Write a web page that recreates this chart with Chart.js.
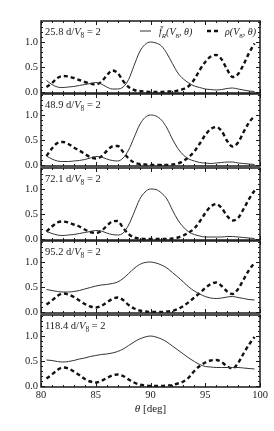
<!DOCTYPE html>
<html>
<head>
<meta charset="utf-8">
<script src="https://cdn.jsdelivr.net/npm/chart.js@4/dist/chart.umd.min.js"></script>
<style>
  html, body { margin: 0; padding: 0; background: #fff; }
  #wrap { position: relative; width: 274px; height: 431px; overflow: hidden; }
  #wrap canvas { position: absolute; left: 0; }
</style>
</head>
<body>
<div id="wrap"></div>
<script>
// angle grid (deg)
const theta = [80.5, 81, 81.5, 82, 82.5, 83, 83.5, 84, 84.5, 85, 85.5, 86, 86.5, 87, 87.5, 88, 88.5, 89, 89.5, 90,
  90.5, 91, 91.5, 92, 92.5, 93, 93.5, 94, 94.5, 95, 95.5, 96, 96.5, 97, 97.5, 98, 98.5, 99, 99.5]

const panelTimes = ["25.8", "48.9", "72.1", "95.2", "118.4"]

// solid: f_R(V8, theta)
const fR1 = [0.23, 0.15, 0.10, 0.09, 0.10, 0.11, 0.13, 0.15, 0.17, 0.19, 0.16, 0.10, 0.06, 0.06, 0.10, 0.25, 0.53, 0.80, 0.95, 1.00,
  0.98, 0.92, 0.77, 0.57, 0.38, 0.26, 0.18, 0.12, 0.09, 0.06, 0.05, 0.04, 0.05, 0.07, 0.08, 0.06, 0.04, 0.02, 0.01]
const fR2 = [0.18, 0.12, 0.08, 0.07, 0.07, 0.08, 0.09, 0.11, 0.14, 0.17, 0.16, 0.12, 0.09, 0.08, 0.14, 0.30, 0.55, 0.80, 0.95, 1.00,
  0.98, 0.90, 0.74, 0.52, 0.33, 0.20, 0.12, 0.08, 0.05, 0.04, 0.03, 0.04, 0.05, 0.06, 0.06, 0.04, 0.03, 0.02, 0.01]
const fR3 = [0.15, 0.11, 0.08, 0.07, 0.08, 0.09, 0.11, 0.13, 0.15, 0.17, 0.16, 0.12, 0.09, 0.08, 0.12, 0.28, 0.53, 0.79, 0.94, 1.00,
  0.99, 0.92, 0.80, 0.58, 0.38, 0.24, 0.14, 0.09, 0.06, 0.04, 0.04, 0.04, 0.04, 0.05, 0.05, 0.04, 0.03, 0.02, 0.01]
const fR4 = [0.45, 0.43, 0.41, 0.40, 0.40, 0.41, 0.43, 0.46, 0.49, 0.52, 0.54, 0.55, 0.57, 0.60, 0.67, 0.77, 0.87, 0.95, 0.99, 1.00,
  0.98, 0.94, 0.88, 0.79, 0.70, 0.60, 0.50, 0.42, 0.36, 0.31, 0.28, 0.27, 0.28, 0.30, 0.31, 0.29, 0.27, 0.25, 0.24]
const fR5 = [0.52, 0.51, 0.49, 0.48, 0.49, 0.51, 0.54, 0.56, 0.59, 0.61, 0.63, 0.64, 0.66, 0.69, 0.74, 0.81, 0.88, 0.94, 0.98, 1.00,
  0.98, 0.94, 0.88, 0.80, 0.72, 0.64, 0.56, 0.49, 0.43, 0.39, 0.38, 0.37, 0.37, 0.37, 0.37, 0.37, 0.36, 0.35, 0.34]

// dashed: rho(V8, theta)
const rho1 = [0.10, 0.18, 0.28, 0.32, 0.31, 0.28, 0.24, 0.20, 0.17, 0.15, 0.20, 0.33, 0.43, 0.38, 0.22, 0.10, 0.04, 0.02, 0.01, 0.00,
  0.00, 0.00, 0.01, 0.01, 0.03, 0.06, 0.12, 0.25, 0.44, 0.60, 0.71, 0.74, 0.65, 0.45, 0.30, 0.36, 0.55, 0.78, 0.97]
const rho2 = [0.18, 0.33, 0.44, 0.46, 0.42, 0.35, 0.29, 0.22, 0.16, 0.13, 0.17, 0.28, 0.37, 0.38, 0.26, 0.13, 0.05, 0.02, 0.01, 0.00,
  0.00, 0.00, 0.00, 0.01, 0.03, 0.08, 0.16, 0.27, 0.43, 0.60, 0.72, 0.76, 0.68, 0.48, 0.37, 0.45, 0.66, 0.85, 0.98]
const rho3 = [0.15, 0.25, 0.33, 0.35, 0.33, 0.29, 0.25, 0.19, 0.14, 0.12, 0.16, 0.26, 0.35, 0.36, 0.22, 0.10, 0.03, 0.01, 0.00, 0.00,
  0.00, 0.00, 0.00, 0.01, 0.03, 0.07, 0.13, 0.21, 0.35, 0.52, 0.65, 0.70, 0.62, 0.46, 0.37, 0.42, 0.60, 0.80, 0.97]
const rho4 = [0.15, 0.23, 0.32, 0.37, 0.35, 0.30, 0.23, 0.16, 0.11, 0.09, 0.12, 0.19, 0.26, 0.29, 0.24, 0.14, 0.07, 0.03, 0.01, 0.00,
  0.00, 0.00, 0.01, 0.02, 0.06, 0.12, 0.20, 0.29, 0.38, 0.48, 0.56, 0.59, 0.52, 0.41, 0.36, 0.46, 0.65, 0.84, 0.98]
const rho5 = [0.15, 0.23, 0.32, 0.37, 0.35, 0.29, 0.22, 0.14, 0.09, 0.07, 0.10, 0.16, 0.21, 0.23, 0.20, 0.13, 0.07, 0.03, 0.01, 0.00,
  0.00, 0.00, 0.01, 0.02, 0.05, 0.09, 0.17, 0.30, 0.40, 0.47, 0.51, 0.52, 0.48, 0.39, 0.35, 0.46, 0.65, 0.83, 0.98]

const fRSeries = [fR1, fR2, fR3, fR4, fR5]
const rhoSeries = [rho1, rho2, rho3, rho4, rho5]

const xTicks = [80, 85, 90, 95, 100]
const yTicks = [0, 0.5, 1.0]

const SERIF = "'Liberation Serif', 'DejaVu Serif', serif"
const INK = "#1a1a1a"

// plot-area tops for the five stacked panels
const panelTop = [21, 94, 168, 241, 315]
const panelH = 72
const pad = 10

// draw a run of text pieces: {t, it (italic), sub (subscript)}
function drawRich(ctx, x, y, parts, size) {
  parts.forEach(p => {
    const s = p.sub ? size * 0.7 : size
    ctx.font = (p.it ? "italic " : "") + s + "px " + SERIF
    ctx.fillText(p.t, x, p.sub ? y + size * 0.25 : y)
    x += ctx.measureText(p.t).width
  })
  return x
}

function richWidth(ctx, parts, size) {
  let w = 0
  parts.forEach(p => {
    const s = p.sub ? size * 0.7 : size
    ctx.font = (p.it ? "italic " : "") + s + "px " + SERIF
    w += ctx.measureText(p.t).width
  })
  return w
}

const framePlugin = {
  id: "frame",
  afterDatasetsDraw(chart) {
    const { ctx, chartArea: a, scales } = chart
    const x = scales.x, y = scales.y
    ctx.save()
    ctx.strokeStyle = INK
    ctx.lineWidth = 1
    for (let v = 80; v <= 100; v++) {
      const px = Math.round(x.getPixelForValue(v)) + 0.5
      const len = v % 5 === 0 ? 4 : 2
      ctx.beginPath()
      ctx.moveTo(px, a.bottom); ctx.lineTo(px, a.bottom - len)
      ctx.moveTo(px, a.top); ctx.lineTo(px, a.top + len)
      ctx.stroke()
    }
    for (let i = 0; i <= 14; i++) {
      const v = i / 10
      const py = Math.round(y.getPixelForValue(v)) + 0.5
      const len = i % 5 === 0 ? 4 : 2
      ctx.beginPath()
      ctx.moveTo(a.left, py); ctx.lineTo(a.left + len, py)
      ctx.moveTo(a.right, py); ctx.lineTo(a.right - len, py)
      ctx.stroke()
    }
    ctx.lineWidth = 1.5
    ctx.strokeRect(a.left, a.top, a.right - a.left, a.bottom - a.top)

    const opts = chart.options.plugins.frame
    ctx.fillStyle = INK
    ctx.textBaseline = "alphabetic"
    drawRich(ctx, a.left + 4, a.top + 14, [
      { t: opts.time + " d/" }, { t: "V", it: true }, { t: "8", sub: true }, { t: " = 2" }
    ], 10.5)

    if (opts.legend) {
      const ly = a.top + 10
      const ds = chart.data.datasets
      // solid sample
      ctx.strokeStyle = ds[0].borderColor
      ctx.lineWidth = ds[0].borderWidth
      ctx.beginPath(); ctx.moveTo(140, ly); ctx.lineTo(151, ly); ctx.stroke()
      drawRich(ctx, 159, a.top + 14, [
        { t: "f\u0304", it: true }, { t: "R", it: true, sub: true }, { t: "(", it: true },
        { t: "V", it: true }, { t: "8", sub: true }, { t: ", \u03b8)", it: true }
      ], 10)
      // dashed sample
      ctx.strokeStyle = ds[1].borderColor
      ctx.lineWidth = ds[1].borderWidth
      ctx.setLineDash(ds[1].borderDash)
      ctx.beginPath(); ctx.moveTo(207, ly); ctx.lineTo(219, ly); ctx.stroke()
      ctx.setLineDash([])
      drawRich(ctx, 225, a.top + 14, [
        { t: "\u03c1(", it: true }, { t: "V", it: true }, { t: "8", sub: true }, { t: ", \u03b8)", it: true }
      ], 10)
    }

    if (opts.xTitle) {
      const parts = [{ t: "\u03b8", it: true }, { t: " [deg]" }]
      const w = richWidth(ctx, parts, 11)
      drawRich(ctx, (a.left + a.right) / 2 - w / 2, a.bottom + 25, parts, 11)
    }
    ctx.restore()
  }
}

function makePanel(k) {
  const last = k === 4
  const c = document.createElement("canvas")
  const h = last ? 431 - (panelTop[k] - pad) : panelH + 2 * pad
  c.width = 274
  c.height = h
  c.style.top = (panelTop[k] - pad) + "px"
  document.getElementById("wrap").appendChild(c)

  new Chart(c, {
    type: "line",
    data: {
      labels: theta,
      datasets: [
        {
          label: "fR",
          data: theta.map((t, i) => ({ x: t, y: fRSeries[k][i] })),
          borderColor: "#333",
          borderWidth: 1,
          pointRadius: 0,
          cubicInterpolationMode: "monotone"
        },
        {
          label: "rho",
          data: theta.map((t, i) => ({ x: t, y: rhoSeries[k][i] })),
          borderColor: "#111",
          borderWidth: 2.4,
          borderDash: [4, 3],
          pointRadius: 0,
          cubicInterpolationMode: "monotone"
        }
      ]
    },
    options: {
      responsive: false,
      animation: false,
      layout: { padding: { top: pad, right: 14, left: 0, bottom: 0 } },
      plugins: {
        legend: { display: false },
        tooltip: { enabled: false },
        frame: { time: panelTimes[k], legend: k === 0, xTitle: last }
      },
      scales: {
        x: {
          type: "linear",
          min: 80,
          max: 100,
          grid: { display: false, drawTicks: false },
          border: { display: false },
          afterBuildTicks: s => { s.ticks = xTicks.map(v => ({ value: v })) },
          afterFit: s => { s.height = last ? 431 - (panelTop[k] + panelH) : pad },
          ticks: {
            display: last,
            maxRotation: 0,
            autoSkip: false,
            padding: 2,
            color: INK,
            font: { family: SERIF, size: 10.5 }
          }
        },
        y: {
          min: -0.02,
          max: 1.42,
          grid: { display: false, drawTicks: false },
          border: { display: false },
          afterBuildTicks: s => { s.ticks = yTicks.map(v => ({ value: v })) },
          afterFit: s => { s.width = 41 },
          ticks: {
            padding: 3,
            color: INK,
            font: { family: SERIF, size: 10.5 },
            callback: v => v.toFixed(1)
          }
        }
      }
    },
    plugins: [framePlugin]
  })
}

for (let k = 0; k < 5; k++) makePanel(k)
</script>
</body>
</html>
